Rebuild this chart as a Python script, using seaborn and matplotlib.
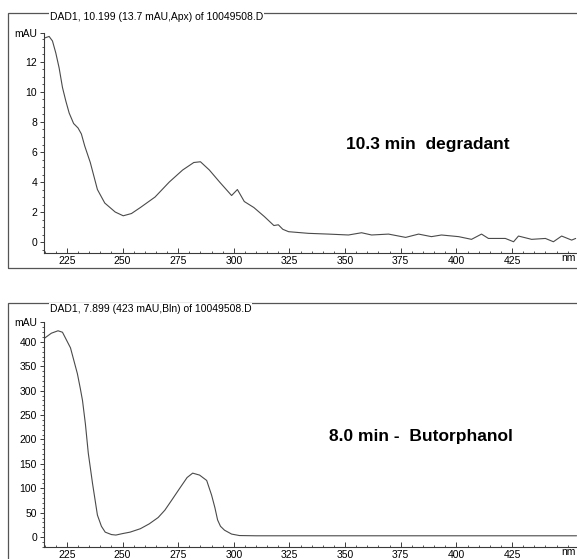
import numpy as np
import pandas as pd
import matplotlib
matplotlib.use("Agg")
import matplotlib.pyplot as plt
import seaborn as sns
from matplotlib.patches import Rectangle
from matplotlib.ticker import MultipleLocator

# --- DATA ---
# 10.3 min degradant, wavelength (nm) vs absorbance (mAU)
deg_wl = [215, 217, 218.5, 220, 221.5, 223, 224.5, 226, 228, 230, 231.5, 233,
          235.5, 238.7, 242, 246.7, 250.3, 254, 258, 264.6, 271, 277, 282, 285,
          289, 293.6, 299, 301.6, 304.7, 309, 313.7, 318, 320, 322, 324.6, 333.5,
          342.5, 351.5, 357.4, 361.9, 369.5, 377.2, 383, 388.8, 393.3, 401, 406.8,
          411.3, 414.4, 422, 425.7, 427.9, 433.8, 440, 443.6, 447.3, 451.8, 453.6]
deg_mau = [13.6, 13.7, 13.4, 12.6, 11.6, 10.3, 9.4, 8.6, 7.9, 7.6, 7.2, 6.4,
           5.3, 3.5, 2.6, 2.0, 1.75, 1.9, 2.3, 3.0, 4.0, 4.8, 5.3, 5.35,
           4.8, 4.0, 3.1, 3.5, 2.7, 2.3, 1.7, 1.1, 1.15, 0.85, 0.69, 0.58,
           0.53, 0.47, 0.62, 0.47, 0.53, 0.31, 0.53, 0.36, 0.47, 0.36, 0.18,
           0.53, 0.24, 0.24, 0.02, 0.4, 0.18, 0.24, 0.02, 0.4, 0.13, 0.24]

# 8.0 min butorphanol
but_wl = [215, 218, 221, 223, 226.6, 229.7, 231, 232, 233.3, 234.6, 236.5, 238.7,
          240.5, 242.2, 245, 247, 250, 253.4, 258, 262, 266, 269, 272, 275.7, 279,
          281.5, 284.6, 287.8, 290, 291.5, 292.7, 294, 295.8, 299, 302.5, 310,
          330, 360, 400, 454]
but_mau = [408, 418, 423, 420, 388, 335, 305, 280, 232, 172, 110, 45,
           22, 10, 5, 4, 7, 10, 17, 27, 40, 55, 75, 100, 122,
           131, 127, 116, 86, 60, 35, 22, 14, 6, 3, 2.5,
           2.5, 2.5, 2.5, 2.5]

x_ticks = [225, 250, 275, 300, 325, 350, 375, 400, 425]
deg_yticks = [0, 2, 4, 6, 8, 10, 12]
but_yticks = [0, 50, 100, 150, 200, 250, 300, 350, 400]

deg_title = "DAD1, 10.199 (13.7 mAU,Apx) of 10049508.D"
but_title = "DAD1, 7.899 (423 mAU,Bln) of 10049508.D"
deg_label = "10.3 min  degradant"
but_label = "8.0 min -  Butorphanol"

df_deg = pd.DataFrame({"nm": deg_wl, "mAU": deg_mau})
df_but = pd.DataFrame({"nm": but_wl, "mAU": but_mau})

# --- STYLE ---
sns.set_style("white")
plt.rcParams["font.family"] = ["Liberation Sans", "DejaVu Sans"]
plt.rcParams["text.color"] = "black"
plt.rcParams["xtick.color"] = "black"
plt.rcParams["ytick.color"] = "black"

W, H = 577, 559
fig = plt.figure(figsize=(W / 100, H / 100), dpi=100)
ink = "#3a3a3a"


def fx(px):
    return px / W


def fy(py):
    return 1 - py / H


# outer frames of the two report panels
for top, bottom in [(13, 268), (303, 600)]:
    fig.add_artist(Rectangle((fx(8), fy(bottom)), fx(700), fy(top) - fy(bottom),
                             transform=fig.transFigure, fill=False,
                             edgecolor="#555555", lw=0.9))


def spectrum(df, top_px, bottom_px, ylim, yticks, minor, title, label, lpos, tpos):
    ax = fig.add_axes([fx(44), fy(bottom_px), 1 - fx(44), fy(top_px) - fy(bottom_px)])
    sns.lineplot(data=df, x="nm", y="mAU", ax=ax, color="#4a4a4a", lw=0.8)
    ax.set_xlim(214.7, 454.2)
    ax.set_ylim(*ylim)
    ax.set_xlabel("")
    ax.set_ylabel("")
    for s in ["top", "right"]:
        ax.spines[s].set_visible(False)
    for s in ["left", "bottom"]:
        ax.spines[s].set_color(ink)
        ax.spines[s].set_linewidth(0.8)
    ax.set_xticks(x_ticks)
    ax.xaxis.set_minor_locator(MultipleLocator(5))
    ax.set_yticks(yticks + [ylim[1]])
    ax.set_yticklabels([str(v) for v in yticks] + ["mAU"])
    ax.yaxis.set_minor_locator(MultipleLocator(minor))
    ax.tick_params(which="both", bottom=True, left=True)
    ax.tick_params(axis="x", direction="in", length=3.5, width=0.7, color=ink,
                   labelsize=7.5, pad=2)
    ax.tick_params(axis="x", which="minor", direction="in", length=1.8, width=0.6, color=ink)
    ax.tick_params(axis="y", direction="out", length=3, width=0.7, color=ink,
                   labelsize=7.5, pad=2)
    ax.tick_params(axis="y", which="minor", direction="out", length=1.5, width=0.6, color=ink)
    ax.text(450.5, ylim[0], "nm", fontsize=7.5, ha="center", va="top",
            transform=ax.transData, clip_on=False)
    ax.patch.set_alpha(0)
    fig.text(fx(50), fy(tpos), title, fontsize=7.5, ha="left", va="center",
             bbox=dict(facecolor="white", edgecolor="none", pad=0.5))
    fig.text(fx(lpos[0]), fy(lpos[1]), label, fontsize=12.5, fontweight="bold",
             ha="center", va="center")
    return ax


spectrum(df_deg, 33, 253, (-0.73, 13.93), deg_yticks, 0.5,
         deg_title, deg_label, (428, 145), 17)
spectrum(df_but, 322, 547, (-20.5, 441.0), but_yticks, 10,
         but_title, but_label, (421, 437), 309)

fig.savefig("out.png", dpi=100)
